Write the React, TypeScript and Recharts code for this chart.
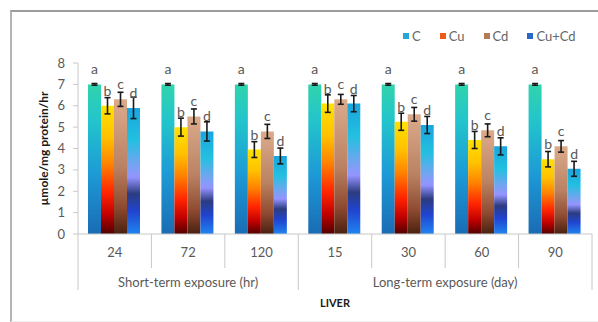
import { BarChart, Bar, XAxis, YAxis, ErrorBar, LabelList } from "recharts";

const categories = ["24", "72", "120", "15", "30", "60", "90"];
const groupNames = ["Short-term exposure (hr)", "Long-term exposure (day)"];
const groupOfCategory = [0, 0, 0, 1, 1, 1, 1];
const yTicks = [0, 1, 2, 3, 4, 5, 6, 7, 8];

const cValues = [7, 7, 7, 7, 7, 7, 7];
const cuValues = [6.0, 5.0, 3.95, 6.1, 5.25, 4.4, 3.5];
const cdValues = [6.3, 5.5, 4.8, 6.3, 5.6, 4.85, 4.1];
const cuCdValues = [5.9, 4.8, 3.65, 6.1, 5.1, 4.1, 3.05];

const cErrors = [0.04, 0.04, 0.04, 0.04, 0.04, 0.04, 0.04];
const cuErrors = [0.38, 0.42, 0.37, 0.41, 0.4, 0.4, 0.36];
const cdErrors = [0.33, 0.35, 0.33, 0.23, 0.32, 0.3, 0.27];
const cuCdErrors = [0.5, 0.45, 0.37, 0.38, 0.4, 0.4, 0.35];

const seriesNames = ["C", "Cu", "Cd", "Cu+Cd"];
const seriesKeys = ["c", "cu", "cd", "cuCd"];
const seriesLetters = ["a", "b", "c", "d"];
const legendColors = ["#25a6d6", "#f05a14", "#b47a58", "#2a68c8"];

const data = categories.map((cat, i) => ({
  cat,
  group: groupOfCategory[i],
  c: cValues[i],
  cu: cuValues[i],
  cd: cdValues[i],
  cuCd: cuCdValues[i],
  cErr: cErrors[i],
  cuErr: cuErrors[i],
  cdErr: cdErrors[i],
  cuCdErr: cuCdErrors[i],
}));

const FONT = "Lato, 'Open Sans', sans-serif";
const TEXT = "#595959";
const AXIS = "#c8c8c8";

function CategoryTick(props: any) {
  const { x, y, payload, index } = props;
  const half = payload?.offset ?? 36.7;
  const g = groupOfCategory[index];
  const firstOfGroup = index === 0 || groupOfCategory[index - 1] !== g;
  const last = index === categories.length - 1;
  const groupCount = groupOfCategory.filter((v) => v === g).length;
  return (
    <g>
      <line
        x1={x - half}
        x2={x - half}
        y1={y}
        y2={y + (firstOfGroup ? 56 : 34)}
        stroke={AXIS}
      />
      {last && (
        <line x1={x + half} x2={x + half} y1={y} y2={y + 56} stroke={AXIS} />
      )}
      <text
        x={x}
        y={y + 23}
        textAnchor="middle"
        fill={TEXT}
        fontSize={13}
        fontFamily={FONT}
      >
        {payload.value}
      </text>
      {firstOfGroup && (
        <text
          x={x - half + groupCount * half}
          y={y + 53}
          textAnchor="middle"
          fill={TEXT}
          fontSize={13}
          fontFamily={FONT}
        >
          {groupNames[g]}
        </text>
      )}
    </g>
  );
}

function YLabel(props: any) {
  const vb = props.viewBox;
  const cx = vb.x + 25;
  const cy = vb.y + vb.height / 2;
  return (
    <text
      x={cx}
      y={cy}
      transform={`rotate(-90, ${cx}, ${cy})`}
      textAnchor="middle"
      dominantBaseline="central"
      fontSize={12}
      fontWeight="bold"
      fill="#1a1a1a"
      fontFamily={FONT}
    >
      µmole/mg protein/hr
    </text>
  );
}

export default function App() {
  return (
    <div
      style={{
        position: "absolute",
        left: 0,
        top: 0,
        width: 598,
        height: 322,
        background: "#fff",
        fontFamily: FONT,
      }}
    >
      {/* Frame */}
      <div
        style={{
          position: "absolute",
          left: 10,
          top: 10,
          right: 0,
          bottom: 0,
          borderTop: "2px solid #9c9c9c",
          borderLeft: "2px solid #b4b4b4",
          borderBottom: "1px solid #eee",
        }}
      />

      {/* Legend */}
      <div
        style={{
          position: "absolute",
          top: 28,
          left: 403,
          display: "flex",
          gap: 19,
          fontSize: 13,
          color: "#666",
        }}
      >
        {seriesNames.map((name, i) => (
          <div key={name} style={{ display: "flex", alignItems: "center" }}>
            <span
              style={{
                width: 6,
                height: 6,
                background: legendColors[i],
                marginRight: 3,
              }}
            />
            {name}
          </div>
        ))}
      </div>

      <div style={{ position: "absolute", left: 0, top: 0 }}>
        <BarChart
          width={598}
          height={322}
          data={data}
          margin={{ top: 63, right: 6, bottom: 13, left: 18 }}
          barCategoryGap={10}
          barGap={0}
        >
          <defs>
            <linearGradient id="gC" x1="0" y1="0" x2="0" y2="1">
              <stop offset="0" stopColor="#30d4ac" />
              <stop offset="0.25" stopColor="#22c4cc" />
              <stop offset="0.6" stopColor="#1d9ad6" />
              <stop offset="1" stopColor="#1a6cb4" />
            </linearGradient>
            <linearGradient id="gCu" x1="0" y1="0" x2="0" y2="1">
              <stop offset="0" stopColor="#ffe200" />
              <stop offset="0.25" stopColor="#ffc000" />
              <stop offset="0.45" stopColor="#ff8400" />
              <stop offset="0.68" stopColor="#ff2400" />
              <stop offset="0.85" stopColor="#c00000" />
              <stop offset="1" stopColor="#520000" />
            </linearGradient>
            <linearGradient id="gCd" x1="0" y1="0" x2="0" y2="1">
              <stop offset="0" stopColor="#dcab8c" />
              <stop offset="0.5" stopColor="#ba8262" />
              <stop offset="0.8" stopColor="#8e4a30" />
              <stop offset="1" stopColor="#4a2010" />
            </linearGradient>
            <linearGradient id="gCuCd" x1="0" y1="0" x2="0" y2="1">
              <stop offset="0" stopColor="#1aa4de" />
              <stop offset="0.25" stopColor="#22c0e0" />
              <stop offset="0.45" stopColor="#74a4f0" />
              <stop offset="0.55" stopColor="#9494ff" />
              <stop offset="0.68" stopColor="#2c3c80" />
              <stop offset="0.82" stopColor="#2044d0" />
              <stop offset="1" stopColor="#2084f0" />
            </linearGradient>
          </defs>

          <XAxis
            dataKey="cat"
            height={75}
            tickLine={false}
            tickSize={0}
            tickMargin={0}
            axisLine={{ stroke: AXIS }}
            tick={<CategoryTick />}
            interval={0}
            label={{
              value: "LIVER",
              position: "insideBottom",
              offset: 2,
              fill: "#1a1a1a",
              fontSize: 11,
              fontWeight: "bold",
              fontFamily: FONT,
            }}
          />
          <YAxis
            width={60}
            domain={[0, 8]}
            ticks={yTicks}
            interval={0}
            axisLine={{ stroke: AXIS }}
            tickLine={{ stroke: AXIS }}
            tickSize={5}
            tickMargin={8}
            tick={{ fill: TEXT, fontSize: 13, fontFamily: FONT }}
            label={<YLabel />}
          />

          {seriesKeys.map((key, i) => (
            <Bar
              key={key}
              dataKey={key}
              name={seriesNames[i]}
              fill={`url(#g${key.charAt(0).toUpperCase() + key.slice(1)})`}
              isAnimationActive={false}
            >
              <ErrorBar
                dataKey={`${key}Err`}
                width={3}
                stroke="#1a1a1a"
                strokeWidth={1.6}
                direction="y"
              />
              <LabelList
                dataKey={key}
                position="top"
                offset={10}
                formatter={() => seriesLetters[i]}
                fill={TEXT}
                fontSize={14}
                fontFamily={FONT}
              />
            </Bar>
          ))}
        </BarChart>
      </div>
    </div>
  );
}
